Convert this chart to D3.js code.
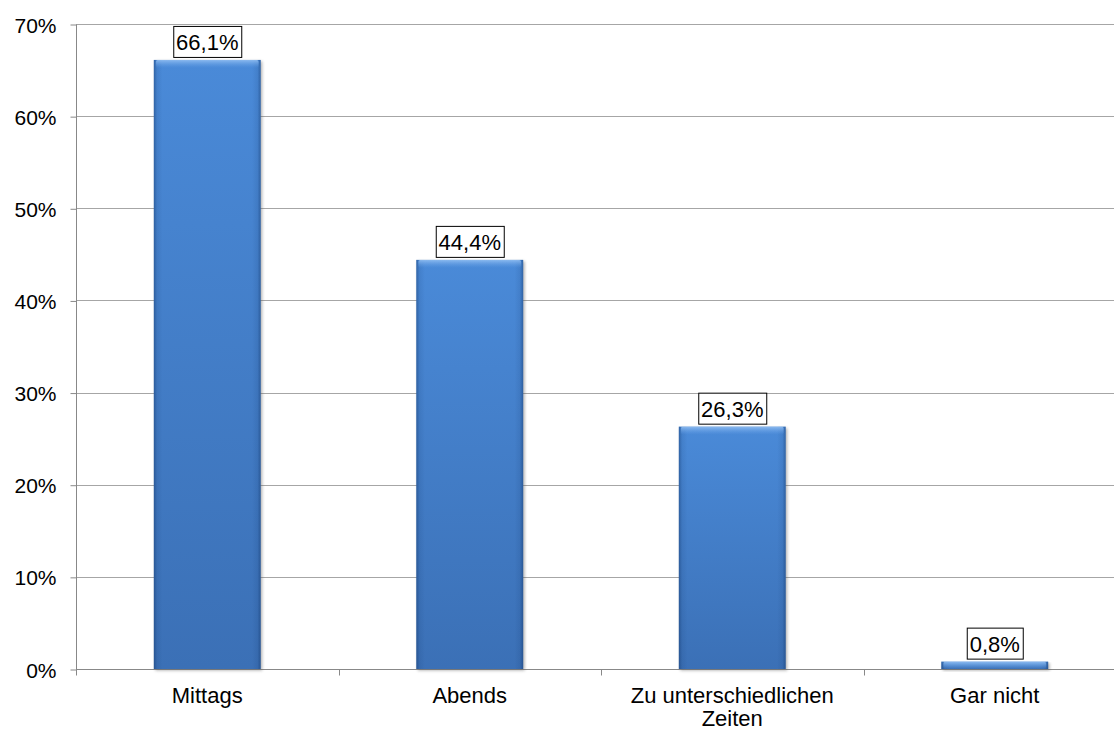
<!DOCTYPE html>
<html><head><meta charset="utf-8">
<script src="https://cdn.jsdelivr.net/npm/d3@7"></script>
<style>body{margin:0;background:#fff}svg{display:block}text{font-family:"Liberation Sans",Arial,sans-serif;fill:#000}</style>
</head><body><svg id="c" width="1114" height="729"></svg>
<script>
const categories = ["Mittags", "Abends", "Zu unterschiedlichen|Zeiten", "Gar nicht"];
const values = [66.1, 44.4, 26.3, 0.8];
const valueLabels = ["66,1%", "44,4%", "26,3%", "0,8%"];
const yTicks = [0, 10, 20, 30, 40, 50, 60, 70];

(function(){
const svg = d3.select("#c");
const pL = 76, pR = 1126, pT = 24, pB = 669;
const x = d3.scaleBand().domain(categories).range([pL, pR]).padding(0);
const y = d3.scaleLinear().domain([0, 70]).range([pB, pT]);
const barFrac = 0.407;

const defs = svg.append("defs");
const vg = defs.append("linearGradient").attr("id","vg").attr("x1",0).attr("y1",0).attr("x2",0).attr("y2",1);
vg.append("stop").attr("offset","0%").attr("stop-color","#4a8ad8");
vg.append("stop").attr("offset","100%").attr("stop-color","#3b70b6");
const hg = defs.append("linearGradient").attr("id","hg").attr("x1",0).attr("y1",0).attr("x2",1).attr("y2",0);
[[0,0.4],[0.03,0.1],[0.08,0],[0.92,0],[0.97,0.1],[1,0.4]].forEach(([o,a])=>hg.append("stop").attr("offset",o).attr("stop-color","#0a2a5a").attr("stop-opacity",a));
const tg = defs.append("linearGradient").attr("id","tg").attr("x1",0).attr("y1",0).attr("x2",0).attr("y2",1);
tg.append("stop").attr("offset","0%").attr("stop-color","#9cc6f5").attr("stop-opacity",0.8);
tg.append("stop").attr("offset","100%").attr("stop-color","#6aa3e8").attr("stop-opacity",0);
const f = defs.append("filter").attr("id","sh").attr("x","-10%").attr("y","-10%").attr("width","130%").attr("height","130%");
f.append("feGaussianBlur").attr("stdDeviation",1.5);

// gridlines
svg.append("g").selectAll("line").data(yTicks.filter(d=>d>0)).join("line")
  .attr("x1", pL).attr("x2", 1114).attr("y1", d=>Math.round(y(d))+0.5).attr("y2", d=>Math.round(y(d))+0.5)
  .attr("stroke", "#a6a6a6").attr("stroke-width", 1.2);

// y axis
const yAxis = d3.axisLeft(y).tickValues(yTicks).tickFormat(d=>d+"%").tickSize(6).tickPadding(14);
const ga = svg.append("g").attr("transform", `translate(${pL+0.5},0.5)`).call(yAxis);
ga.select(".domain").attr("stroke","#888").attr("d", `M0,${pT}V${pB+6}`);
ga.selectAll(".tick line").attr("stroke","#888");
ga.selectAll(".tick text").attr("font-size", 21).attr("dy","0.36em").style("font-family","Liberation Sans, Arial, sans-serif");

// x axis
const xb = svg.append("g").attr("transform", `translate(0,${pB+0.5})`);
xb.append("line").attr("x1", pL).attr("x2", 1114).attr("stroke","#888").attr("stroke-width",1.2);
xb.selectAll("line.t").data(categories.slice(1)).join("line").attr("class","t")
  .attr("x1", d=>Math.round(x(d))+0.5).attr("x2", d=>Math.round(x(d))+0.5).attr("y1",0).attr("y2",6).attr("stroke","#888");
xb.selectAll("text").data(categories).join("text")
  .attr("text-anchor","middle").attr("font-size",22)
  .each(function(d){
    const t = d3.select(this), parts = d.split("|");
    parts.forEach((p,i)=>t.append("tspan").attr("x", x(d)+x.bandwidth()/2).attr("y", 33 + i*23).text(p));
  });

// bars
const bars = svg.append("g").selectAll("g").data(categories).join("g");
const bw = x.bandwidth()*barFrac;
const bx = d => x(d) + (x.bandwidth()-bw)/2;
const by = (d,i) => y(values[i]);
const bh = (d,i) => y(0) - y(values[i]);
bars.append("rect").attr("x", d=>bx(d)+1.5).attr("y",(d,i)=>by(d,i)+1.5).attr("width",bw).attr("height",bh)
  .attr("fill","#555").attr("opacity",0.45).attr("filter","url(#sh)");
bars.append("rect").attr("x", bx).attr("y", by).attr("width", bw).attr("height", bh).attr("fill","url(#vg)");
bars.append("rect").attr("x", bx).attr("y", by).attr("width", bw).attr("height", bh).attr("fill","url(#hg)");
bars.append("rect").attr("x", d=>bx(d)+2).attr("y", by).attr("width", bw-4).attr("height",(d,i)=>Math.min(8,bh(d,i))).attr("fill","url(#tg)").attr("rx",2);

// value labels
const lab = svg.append("g").selectAll("g").data(categories).join("g")
  .attr("transform",(d,i)=>`translate(${x(d)+x.bandwidth()/2},${y(values[i])-2})`);
lab.append("text").attr("text-anchor","middle").attr("y",-8).attr("font-size",22).text((d,i)=>valueLabels[i])
  .each(function(){
    const b = this.getBBox();
    d3.select(this.parentNode).insert("rect","text")
      .attr("x", Math.round(b.x-3)+0.5).attr("y", -31.5).attr("width", Math.round(b.width+6)).attr("height", 31)
      .attr("fill","#fff").attr("stroke","#000").attr("stroke-width",1);
  });
})();
</script></body></html>
